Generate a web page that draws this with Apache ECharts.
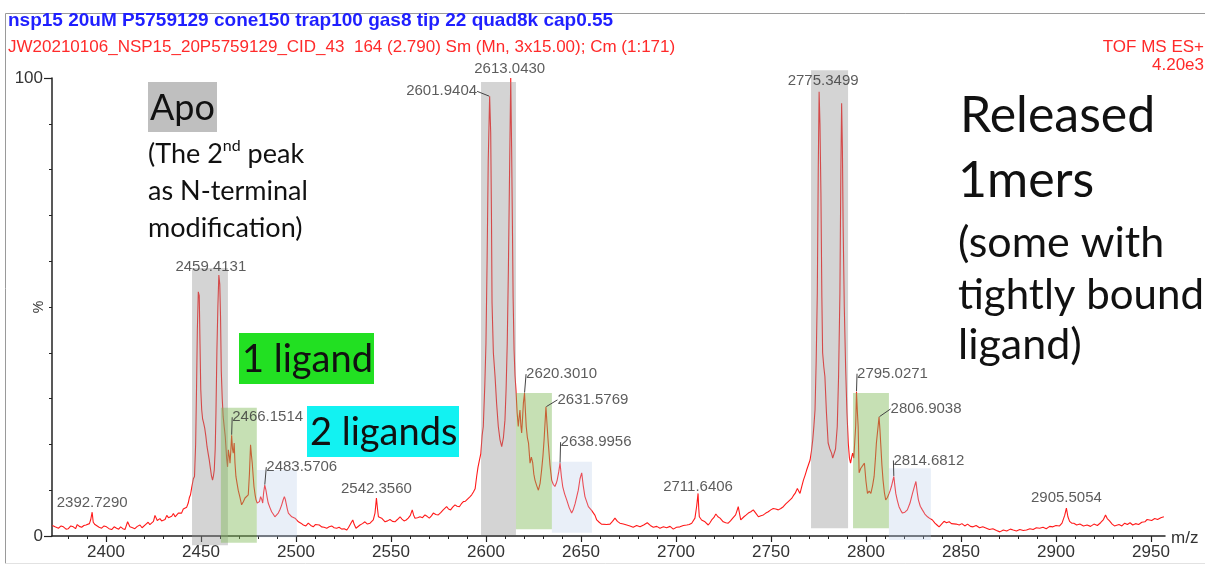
<!DOCTYPE html>
<html><head><meta charset="utf-8">
<script src="https://cdn.jsdelivr.net/npm/echarts@6.0.0/dist/echarts.min.js"></script>
<style>html,body{margin:0;padding:0;background:#fff}#c{width:1212px;height:566px}</style>
</head><body><div id="c"></div>
<script>
// ---- data (m/z, relative intensity %) ----
const spectrum = [
[2371.8,2.3],[2373.2,2.0],[2375.0,1.7],[2376.4,2.2],[2377.6,2.0],[2379.0,1.5],[2380.2,1.6],[2381.5,2.2],[2382.8,2.0],[2384.0,1.6],[2384.9,2.5],[2386.0,2.1],[2387.2,1.9],[2388.4,2.3],[2389.5,2.4],[2390.5,2.2],[2391.3,2.7],[2392.0,3.6],[2392.729,5.2],[2393.3,3.0],[2394.2,2.5],[2395.1,2.1],[2396.4,1.9],[2397.7,1.7],[2399.0,2.2],[2400.3,2.0],[2401.6,1.6],[2403.0,1.4],[2404.3,2.0],[2405.6,1.7],[2406.7,1.5],[2407.7,2.0],[2408.9,1.6],[2410.0,1.4],[2411.4,3.1],[2412.6,2.0],[2414.0,1.8],[2415.2,1.6],[2416.5,2.1],[2417.9,2.4],[2419.0,1.8],[2420.0,2.0],[2421.1,2.6],[2422.2,3.0],[2423.1,2.5],[2424.0,2.7],[2425.0,3.2],[2425.8,4.5],[2427.0,3.4],[2428.4,3.8],[2429.3,3.3],[2430.2,3.1],[2431.1,3.6],[2432.0,4.5],[2432.9,4.0],[2433.7,3.8],[2434.6,4.3],[2435.5,4.9],[2436.4,4.2],[2437.2,4.5],[2438.1,5.0],[2439.0,5.2],[2439.8,5.0],[2440.7,5.9],[2441.6,6.0],[2442.5,6.3],[2443.3,7.2],[2443.9,8.4],[2444.5,9.0],[2445.1,10.5],[2446.0,12.5],[2446.6,13.0],
[2447.2,20],[2447.7,33],[2448.1,45],[2448.6,53.3],[2449.1,52.5],[2449.5,42],[2449.9,32],[2450.4,27.5],[2450.9,25.5],[2451.4,24.7],[2452.0,23.5],[2452.6,21.7],[2453.2,19.5],[2453.8,18],[2454.4,16.5],[2454.9,15],[2455.5,13.2],[2456.1,12.2],[2456.6,13.2],[2457.0,14.4],[2457.5,19],[2457.9,27],[2458.4,40.6],[2458.9,50],[2459.4131,57],[2459.9,55],[2460.3,48],[2460.7,36],[2461.2,30],[2461.7,26],[2462.2,24],[2462.8,21.7],[2463.5,17],[2464.0,15.1],[2464.4,18.8],[2464.9,17.5],[2465.3,15.9],[2465.7,18.5],[2466.1514,22],[2466.6,19],[2467.0,18.1],[2467.5,20.3],[2467.9,16],[2468.4,13],[2469.0,11.5],[2469.6,10],[2470.5,8.5],[2471.4,6.8],[2472.3,7.5],[2473.2,8.3],[2474.1,8.0],[2474.9,9.0],[2475.5,13.5],[2476.1,19.9],[2476.6,17.5],[2477.0,15.9],[2477.5,13],[2477.9,10.8],[2478.5,9],[2479.0,7.9],[2479.6,7.2],[2480.2,6.8],[2480.8,7.5],[2481.4,8.6],[2482.0,8.0],[2482.5,7.2],[2483.0,9.5],[2483.5706,11.1],[2484.2,10],[2484.8,8.5],[2485.4,7.2],[2486.3,6.2],[2487.2,5.3],[2488.0,4.8],[2488.9,4.2],[2489.8,4.6],[2490.7,5.0],[2491.6,5.8],[2492.5,6.8],[2493.2,7.8],[2493.9,8.6],[2494.4,8.0],[2494.8,7.2],[2495.4,6.0],[2496.0,5.0],[2496.9,4.6],[2497.8,4.2],[2498.6,4.0],[2499.5,3.9],[2500.4,3.5],[2501.3,3.1],
[2502.6,2.8],[2503.9,2.4],[2505.2,2.2],[2506.5,2.8],[2507.8,2.3],[2509.1,2.0],[2510.2,2.5],[2511.2,2.9],[2512.3,2.4],[2513.5,2.0],[2514.8,1.9],[2516.2,1.7],[2517.5,2.0],[2518.8,2.2],[2520.1,1.8],[2521.4,1.7],[2522.7,1.9],[2524.1,1.5],[2525.4,1.6],[2526.7,1.3],[2527.6,1.8],[2528.4,2.4],[2529.2,3.0],[2529.9,3.5],[2530.7,2.5],[2531.6,1.7],[2532.6,2.0],[2533.7,2.4],[2535.0,2.7],[2536.3,3.1],[2537.6,2.6],[2539.0,2.8],[2540.0,3.2],[2540.7,3.5],[2541.6,5.0],[2542.356,8.3],[2542.9,6.0],[2543.4,4.2],[2544.2,4.5],[2545.1,3.9],[2546.0,3.5],[2546.9,3.1],[2548.2,3.3],[2549.5,3.6],[2550.8,3.2],[2552.1,3.1],[2553.4,3.6],[2554.8,4.2],[2555.8,3.7],[2556.9,3.3],[2558.0,3.5],[2559.1,3.9],[2560.2,4.5],[2561.2,5.7],[2561.9,4.6],[2562.6,3.9],[2564.0,4.0],[2565.3,4.2],[2566.6,4.0],[2567.9,4.6],[2569.0,4.3],[2570.2,3.9],[2571.3,4.4],[2572.3,5.0],[2573.6,4.7],[2574.9,4.6],[2576.2,5.1],[2577.5,5.7],[2578.4,6.0],[2579.3,6.4],[2580.3,5.9],[2581.4,5.7],[2582.5,6.3],[2583.7,6.8],[2584.8,6.5],[2586.0,6.4],[2587.0,7.0],[2588.1,7.5],[2589.2,7.6],[2590.2,8.0],[2591.4,8.5],[2592.5,9.0],[2593.4,9.6],[2594.3,10.3],[2595.1,13],[2595.8,15],[2596.6,16.6],[2597.3,18],[2598.0,22],
[2598.6,23.9],[2599.4,33],[2600.0,42],[2600.6,60],[2601.2,82],[2601.9404,96],[2602.5,88],[2602.9,70],[2603.2,51],[2603.9,40],[2604.8,34.8],[2605.6,29],[2606.5,23.9],[2607.4,21],[2608.3,19.5],[2609.2,21.5],[2610.0,25.3],[2610.6,32],[2611.2,42],[2611.8,58],[2612.3,75],[2613.043,100],[2613.5,85],[2613.9,69],[2614.3,52],[2614.8,40.6],[2615.3,35],[2615.8,31.9],[2616.4,27],[2617.0,23.9],[2617.5,26],[2617.9,27.5],[2618.4,24],[2618.8,22.5],[2619.3,26],[2619.7,29],[2620.301,31.2],[2620.8,27],[2621.2,23.9],[2621.8,21.5],[2622.4,20.3],[2623.2,15.9],[2623.9,17.2],[2624.6,16],[2625.2,13.5],[2625.8,12.2],[2626.7,11],[2627.6,10],[2628.5,11.5],[2629.3,14.4],[2630.0,17.5],[2630.6,21],[2631.5769,28.2],[2632.2,24],[2632.8,20.3],[2633.7,15.5],[2634.6,12.2],[2635.4,11.3],[2636.3,10.8],[2637.0,11.5],[2637.5,12.2],[2638.3,14],[2638.9956,15.9],[2639.7,13],[2640.4,10.8],[2641.4,9.2],[2642.5,7.9],[2643.8,6.2],[2645.1,5.0],[2646.0,5.8],[2646.9,7.0],[2647.8,8.6],[2648.6,10],[2649.5,12.5],[2650.4,13.8],[2651.2,11],[2652.1,8.6],[2653.0,7.5],[2653.9,6.4],[2654.8,6.0],[2655.6,5.6],[2656.5,5.3],[2657.4,4.5],[2658.3,3.5],[2659.6,3.0],[2660.8,2.6],[2661.8,2.8],[2663.5,2.5],[2665.3,2.6],[2666.6,3.2],[2667.9,3.9],[2669.2,3.2],[2670.5,2.8],[2672.3,2.6],[2674.1,2.4],[2675.8,2.2],[2677.5,1.9],[2679.3,2.3],[2681.1,2.0],[2683.0,2.4],[2684.9,2.9],[2686.5,2.3],[2688.1,1.9],[2689.9,2.1],[2691.6,1.7],[2693.4,2.0],[2695.1,1.8],[2696.9,2.1],[2698.6,1.5],[2700.3,1.9],[2702.1,2.0],[2703.9,2.3],[2705.7,2.4],[2707.0,2.5],[2708.3,2.8],[2709.2,3.2],[2710.0,3.9],[2710.9,6.5],[2711.6406,9.3],[2712.0,6.0],[2712.3,4.2],[2713.5,3.5],[2714.4,3.3],[2715.3,3.1],[2716.2,2.7],[2717.0,2.4],[2717.9,2.9],[2718.8,3.5],[2719.9,4.0],[2721.0,4.8],[2722.1,4.2],[2723.2,3.9],[2724.0,3.5],[2724.9,3.1],[2726.2,2.9],[2727.5,2.8],[2728.7,3.3],[2729.9,3.9],[2730.6,4.2],[2731.4,4.6],[2732.1,5.5],[2732.8,6.4],[2733.5,4.8],[2734.1,3.5],[2735.0,3.9],[2735.8,4.2],[2737.0,4.6],[2738.1,5.0],[2739.4,5.3],[2740.7,5.7],[2742.0,5.0],[2743.4,4.2],[2744.7,4.4],[2746.0,4.6],[2747.3,5.0],[2748.6,5.3],[2749.9,5.7],[2751.2,6.0],[2752.5,5.9],[2753.9,5.7],[2755.2,6.0],[2756.5,6.4],[2757.8,7.0],[2759.1,7.5],[2760.0,7.8],[2760.9,8.2],[2761.8,8.8],[2762.7,9.3],[2763.3,9.8],[2763.9,10.4],[2764.6,9.8],[2765.3,9.3],[2766.2,10.8],[2767.1,12.2],[2768.0,13.3],[2768.8,14.4],[2769.7,15.5],[2770.6,16.6],[2771.3,18.5],[2772.0,21],[2772.6,24],[2773.2,27.5],[2773.8,38],[2774.4,53],[2774.9,80],[2775.3499,97],[2775.8,90],[2776.3,75],[2776.8,52],[2777.2,40],[2777.8,37],[2778.4,34.8],[2779.2,27],[2780.1,20.3],[2781.0,19],[2781.9,18.1],[2782.5,17],[2783.1,16.6],[2784.0,19],[2784.9,23.9],[2785.6,35],[2786.3,53],[2786.8,80],[2787.2,94.5],[2787.6,85],[2788.0,67.5],[2788.6,50],[2789.3,36.9],[2790.0,27],[2790.7,20.3],[2791.3,17],[2791.9,15.9],[2792.5,17.2],[2793.0,18.1],[2793.6,17],[2794.2,16.6],[2794.6,24],[2795.0271,31.5],[2795.5,27],[2795.9,23.9],[2796.4,13.8],[2797.3,14.8],[2798.2,14.5],[2799.2,15.9],[2800.0,12],[2800.8,9.3],[2801.7,9.8],[2802.6,9.3],[2803.5,11],[2804.3,13],[2805.0,17],[2805.5,20.3],[2806.9038,26],[2807.4,23],[2807.8,20],[2808.4,15.5],[2809.0,12.2],[2809.7,9.5],[2810.4,7.9],[2811.3,8.4],[2812.2,9.3],[2812.8,10],[2813.4,10.8],[2814.6812,13],[2815.2,11],[2815.7,9.3],[2816.5,7.8],[2817.4,6.4],[2818.3,5.6],[2819.2,5.0],[2820.5,5.2],[2821.8,5.7],[2823.2,7.2],[2824.5,9.3],[2825.5,10.8],[2826.3,11.9],[2827.0,9.5],[2827.6,7.9],[2828.6,6.5],[2829.7,5.7],[2831.0,4.8],[2832.4,4.2],[2833.7,3.8],[2835.0,3.5],[2836.3,2.8],[2837.4,2.4],[2838.5,2.0],[2839.8,2.6],[2841.1,3.2],[2842.4,2.9],[2843.8,3.1],[2845.0,2.7],[2846.0,3.1],[2847.5,2.6],[2849.1,2.4],[2850.5,2.7],[2852.0,2.2],[2853.5,2.6],[2855.0,2.1],[2856.4,2.0],[2858.0,2.3],[2859.8,1.8],[2861.5,2.0],[2863.4,1.7],[2865.0,1.4],[2866.8,1.6],[2868.7,1.2],[2870.5,0.9],[2872.3,1.3],[2874.1,1.1],[2876.0,1.5],[2877.5,1.3],[2879.2,1.1],[2881.0,1.4],[2882.8,1.2],[2884.5,1.3],[2886.3,1.6],[2888.0,1.4],[2889.7,1.8],[2891.4,1.7],[2893.2,1.9],[2894.9,1.6],[2896.7,2.1],[2898.4,2.0],[2900.0,2.3],[2901.9,2.2],[2903.2,2.8],[2904.6,4.5],[2905.5054,6.1],[2906.3,4.2],[2907.2,3.2],[2908.3,2.8],[2909.4,2.8],[2910.9,2.4],[2912.6,2.6],[2914.5,2.2],[2916.4,2.4],[2918.2,2.1],[2920.0,2.6],[2921.8,2.3],[2923.5,2.9],[2925.0,3.6],[2926.1,4.6],[2927.0,3.8],[2928.2,3.3],[2929.6,2.6],[2930.8,2.2],[2931.7,2.0],[2933.2,2.5],[2934.7,2.2],[2936.2,2.8],[2937.6,2.5],[2939.0,2.9],[2940.4,2.4],[2941.9,2.7],[2943.5,2.5],[2945.2,3.0],[2946.8,3.1],[2948.0,3.6],[2948.9,3.5],[2950.4,3.4],[2952.0,3.8],[2953.5,3.6],[2955.2,4.0],[2956.8,4.2]
];

// labelled peaks
const peakMz  = [2392.7290, 2459.4131, 2466.1514, 2483.5706, 2542.3560, 2601.9404, 2613.0430, 2620.3010, 2631.5769, 2638.9956, 2711.6406, 2775.3499, 2795.0271, 2806.9038, 2814.6812, 2905.5054];
const peakPct = [5.2, 57, 22, 11.1, 8.3, 96, 100, 31.2, 28.2, 15.9, 9.3, 97, 31.5, 26, 13, 6.1];

// shaded species regions: [m/z from, m/z to, top %, bottom %, kind]
const regionKinds = ['apo', 'oneLigand', 'twoLigands'];
const regions = [
  [2445.3, 2464.2, 58.5, -2.0, 0],
  [2460.5, 2479.4, 28.0, -1.5, 1],
  [2479.4, 2500.5, 14.4, -0.3, 2],
  [2597.4, 2615.8, 99.1, 0.2, 0],
  [2615.8, 2634.7, 31.2, 1.5, 1],
  [2634.7, 2655.8, 16.2, 0.7, 2],
  [2771.1, 2790.6, 101.7, 1.7, 0],
  [2793.2, 2812.1, 31.2, 1.7, 1],
  [2812.1, 2834.2, 14.8, -0.9, 2]
];

// axis ticks
const xMajorTicks = [2400, 2450, 2500, 2550, 2600, 2650, 2700, 2750, 2800, 2850, 2900, 2950];
const xMinorTicks = [2380,2390,2400,2410,2420,2430,2440,2450,2460,2470,2480,2490,2500,2510,2520,2530,2540,2550,2560,2570,2580,2590,2600,2610,2620,2630,2640,2650,2660,2670,2680,2690,2700,2710,2720,2730,2740,2750,2760,2770,2780,2790,2800,2810,2820,2830,2840,2850,2860,2870,2880,2890,2900,2910,2920,2930,2940,2950];
const yTicks = [0, 100];

// ---- styles (kept separate from data) ----
const regionFill = ['rgba(148,148,148,0.40)', 'rgba(128,186,88,0.45)', 'rgba(182,202,232,0.30)'];
// label shift [dx, dy, leader line]
const peakLabelShift = [
  [0, 4, false], [-8, 5, false], [36, -5, true], [37, -5, true], [0, 4, false],
  [-48, 8, true], [-1, 4, false], [37, -6, true], [47, 6, true], [36, -8, true],
  [0, 6, false], [4, 2, false], [36, -5, true], [47, 5, true], [35, -3, true], [0, 3, false]
];

const chart = echarts.init(document.getElementById('c'), null, {renderer: 'canvas'});
const SANS = '"Liberation Sans", Arial, sans-serif';
const CAL = 'Lato, "Open Sans", sans-serif';

const peakData = peakMz.map((m, i) => ({
  value: [m, peakPct[i]],
  labelLine: {show: peakLabelShift[i][2]}
}));

const option = {
  backgroundColor: '#fff',
  animation: false,
  grid: {left: 52, right: 47, top: 78, bottom: 30, containLabel: false, outerBoundsMode: 'none'},
  xAxis: [{
    type: 'value', min: 2371.6, max: 2957.4,
    name: 'm/z', nameLocation: 'end', nameGap: 6, nameMoveOverlap: false,
    nameTextStyle: {fontFamily: SANS, fontSize: 17, color: '#333', verticalAlign: 'top', padding: [-6, 0, 0, 0]},
    axisLine: {show: true, onZero: false, lineStyle: {color: '#222', width: 1.5}},
    axisTick: {show: true, length: 6, customValues: xMajorTicks, lineStyle: {color: '#222', width: 1.2}},
    axisLabel: {show: true, customValues: xMajorTicks, margin: 8, fontFamily: SANS, fontSize: 17, color: '#333',
      formatter: v => String(v)},
    splitLine: {show: false}
  }, {
    type: 'value', min: 2371.6, max: 2957.4, position: 'bottom',
    axisLine: {show: false},
    axisTick: {show: true, length: 3, customValues: xMinorTicks, lineStyle: {color: '#222', width: 1}},
    axisLabel: {show: false},
    splitLine: {show: false}
  }],
  yAxis: {
    type: 'value', min: 0, max: 100, interval: 100,
    name: '%', nameLocation: 'middle', nameGap: 6, nameRotate: 90, nameMoveOverlap: false,
    nameTextStyle: {fontFamily: SANS, fontSize: 14, color: '#333'},
    axisLine: {show: true, lineStyle: {color: '#222', width: 1.5}},
    axisTick: {show: true, length: 8, lineStyle: {color: '#222', width: 1.2}},
    minorTick: {show: true, splitNumber: 10, length: 3, lineStyle: {color: '#222', width: 1}},
    axisLabel: {margin: 9, fontFamily: SANS, fontSize: 17, color: '#333', customValues: yTicks,
      formatter: v => String(v)},
    splitLine: {show: false}, minorSplitLine: {show: false}
  },
  series: [{
    name: 'spectrum', type: 'line', z: 2, data: spectrum,
    showSymbol: false, symbol: 'none', smooth: false,
    lineStyle: {color: '#ff1a1a', width: 1.1},
    silent: true
  }, {
    name: 'species', type: 'custom', z: 3, clip: false, silent: true,
    coordinateSystem: 'cartesian2d',
    data: regions,
    encode: {x: [0, 1], y: [2, 3]},
    renderItem: function (params, api) {
      const p1 = api.coord([api.value(0), api.value(2)]);
      const p2 = api.coord([api.value(1), api.value(3)]);
      return {type: 'rect', shape: {x: p1[0], y: p1[1], width: p2[0] - p1[0], height: p2[1] - p1[1]},
        style: {fill: regionFill[api.value(4)]}};
    }
  }, {
    name: 'peaks', type: 'scatter', z: 5, silent: true,
    symbolSize: 1, itemStyle: {color: 'rgba(0,0,0,0)'},
    data: peakData,
    label: {show: true, position: 'top', distance: 5,
      formatter: p => p.value[0].toFixed(4),
      fontFamily: SANS, fontSize: 15, color: '#333'},
    labelLine: {show: false, lineStyle: {color: '#444', width: 1}},
    labelLayout: function (params) {
      const s = peakLabelShift[params.dataIndex];
      return {dx: s[0], dy: s[1]};
    }
  }],
  graphic: [
    {type: 'polyline', silent: true, shape: {points: [[5.5, 563.5], [5.5, 13.5], [1205, 13.5]]}, style: {stroke: '#9a9a9a', lineWidth: 1, fill: null}},
    {type: 'line', silent: true, shape: {x1: 5.5, y1: 563.5, x2: 1205, y2: 563.5}, style: {stroke: '#e2e2e2', lineWidth: 1}},
    {type: 'text', silent: true, x: 8, y: 21, style: {text: 'nsp15 20uM P5759129 cone150 trap100 gas8 tip 22 quad8k cap0.55', font: 'bold 19px ' + SANS, fill: '#1f1fff', verticalAlign: 'middle'}},
    {type: 'text', silent: true, x: 8, y: 47, style: {text: 'JW20210106_NSP15_20P5759129_CID_43  164 (2.790) Sm (Mn, 3x15.00); Cm (1:171)', font: '17px ' + SANS, fill: '#ff2a2a', verticalAlign: 'middle'}},
    {type: 'text', silent: true, x: 1204, y: 47, style: {text: 'TOF MS ES+', font: '17px ' + SANS, fill: '#ff2a2a', align: 'right', verticalAlign: 'middle'}},
    {type: 'text', silent: true, x: 1204, y: 65, style: {text: '4.20e3', font: '17px ' + SANS, fill: '#ff2a2a', align: 'right', verticalAlign: 'middle'}},
    {type: 'rect', silent: true, shape: {x: 148, y: 82, width: 69, height: 50}, style: {fill: '#bfbfbf'}},
    {type: 'text', silent: true, x: 150, y: 108, style: {text: 'Apo', font: '36px ' + CAL, fill: '#111', verticalAlign: 'middle'}},
    {type: 'text', silent: true, x: 148, y: 154, style: {
      text: '{a|(The 2}{b|nd}{a| peak}', verticalAlign: 'middle',
      rich: {a: {fontFamily: CAL, fontSize: 27, fill: '#111', lineHeight: 32},
             b: {fontFamily: CAL, fontSize: 16, fill: '#111', lineHeight: 32, verticalAlign: 'top'}}}},
    {type: 'text', silent: true, x: 148, y: 191, style: {text: 'as N-terminal', font: '27px ' + CAL, fill: '#111', verticalAlign: 'middle'}},
    {type: 'text', silent: true, x: 148, y: 228, style: {text: 'modification)', font: '27px ' + CAL, fill: '#111', verticalAlign: 'middle'}},
    {type: 'rect', silent: true, shape: {x: 239, y: 333, width: 135, height: 51}, style: {fill: '#22e022'}},
    {type: 'text', silent: true, x: 242, y: 360, style: {text: '1 ligand', font: '38px ' + CAL, fill: '#111', verticalAlign: 'middle'}},
    {type: 'rect', silent: true, shape: {x: 307, y: 406, width: 152, height: 51}, style: {fill: '#12f2f2'}},
    {type: 'text', silent: true, x: 310, y: 433, style: {text: '2 ligands', font: '38px ' + CAL, fill: '#111', verticalAlign: 'middle'}},
    {type: 'text', silent: true, x: 960, y: 116, style: {text: 'Released', font: '50px ' + CAL, fill: '#111', verticalAlign: 'middle'}},
    {type: 'text', silent: true, x: 958, y: 181, style: {text: '1mers', font: '50px ' + CAL, fill: '#111', verticalAlign: 'middle'}},
    {type: 'text', silent: true, x: 958, y: 243, style: {text: '(some with', font: '43px ' + CAL, fill: '#111', verticalAlign: 'middle'}},
    {type: 'text', silent: true, x: 958, y: 295, style: {text: 'tightly bound', font: '42px ' + CAL, fill: '#111', verticalAlign: 'middle'}},
    {type: 'text', silent: true, x: 958, y: 345, style: {text: 'ligand)', font: '43px ' + CAL, fill: '#111', verticalAlign: 'middle'}}
  ]
};
chart.setOption(option);
</script>
</body></html>
